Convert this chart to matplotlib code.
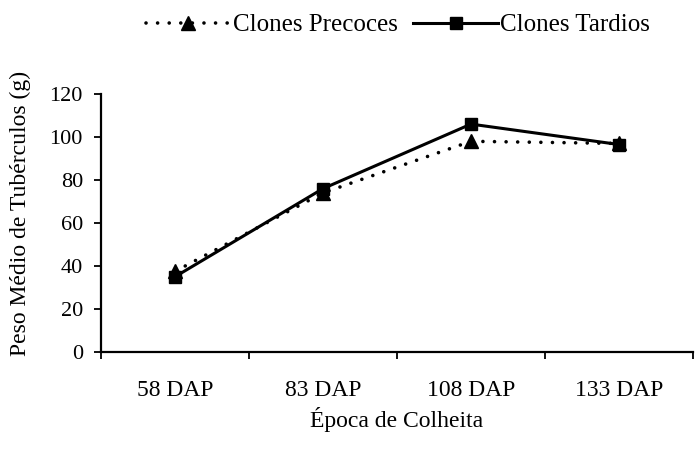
import matplotlib
matplotlib.use("Agg")
import matplotlib.pyplot as plt

plt.rcParams['font.family'] = ['Liberation Serif', 'DejaVu Serif']

categorias = ['58 DAP', '83 DAP', '108 DAP', '133 DAP']
precoces = [37.5, 74, 98, 97]
tardios = [35, 76, 106, 96.5]

fig = plt.figure(figsize=(6.99, 4.49), dpi=100)
ax = fig.add_axes([101 / 699, 1 - 352 / 449, 592 / 699, 258 / 449])

x = [i + 0.5 for i in range(len(categorias))]
ax.plot(x, precoces, linestyle=(0, (0.01, 3.2)), dash_capstyle='round', linewidth=2.6,
        color='black', marker='^', markersize=10, label='Clones Precoces')
ax.plot(x, tardios, linestyle='-', linewidth=2.2, color='black',
        marker='s', markersize=8.5, label='Clones Tardios')

ax.set_xlim(0, 4)
ax.set_ylim(0, 120)
ax.set_yticks(range(0, 121, 20))
ax.set_xticks(x)
ax.set_xticklabels(categorias)
ax.set_xticks(range(0, 5), minor=True)

for s in ['top', 'right']:
    ax.spines[s].set_visible(False)
ax.spines['left'].set_linewidth(1.6)
ax.spines['bottom'].set_linewidth(1.6)
ax.tick_params(axis='x', which='major', length=0, pad=20, labelsize=17)
ax.tick_params(axis='x', which='minor', direction='out', length=5, width=1.3)
ax.tick_params(axis='y', direction='out', length=5, width=1.3, pad=8, labelsize=16)

fig.text(20 / 699, 1 - 213 / 449, 'Peso Médio de Tubérculos (g)', rotation=90,
         ha='center', va='center', fontsize=17)
fig.text(397 / 699, 1 - 420 / 449, 'Época de Colheita', ha='center', va='center', fontsize=17)

fig.legend(loc='center', bbox_to_anchor=(398 / 699, 1 - 25 / 449), ncol=2, frameon=False,
           fontsize=18, handlelength=3.4, columnspacing=0.6, handletextpad=0.1)

fig.savefig('out.png', dpi=100)
